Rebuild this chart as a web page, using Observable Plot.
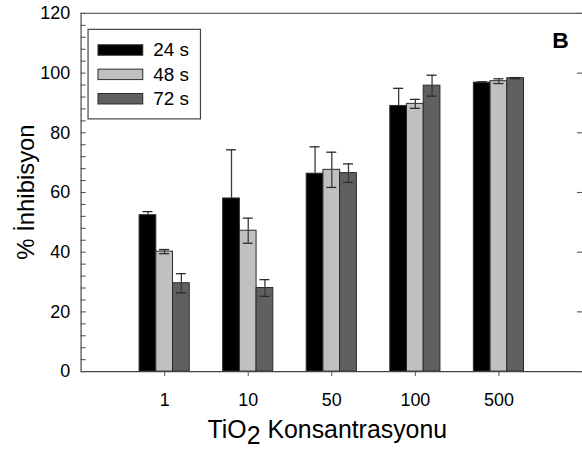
<!DOCTYPE html>
<html>
<head>
<meta charset="utf-8">
<script src="https://cdn.jsdelivr.net/npm/d3@7"></script>
<script src="https://cdn.jsdelivr.net/npm/@observablehq/plot@0.6"></script>
<style>
  html, body { margin: 0; padding: 0; background: #fff; overflow: hidden; }
  #chart svg { display: block; }
</style>
</head>
<body>
<div id="chart"></div>
<script>
// TiO2 concentrations on the x axis
const concentrations = ["1", "10", "50", "100", "500"];
// exposure times
const series = ["24 s", "48 s", "72 s"];
const fills = ["#000000", "#c0c0c0", "#606060"];

// % inhibition (mean) and error for each exposure time
const mean24 = [52.4, 58.0, 66.3, 89.0, 96.8];
const err24  = [1.2, 16.3, 9.0, 5.9, 0.3];
const mean48 = [40.2, 47.2, 67.6, 89.7, 97.3];
const err48  = [0.7, 4.2, 5.9, 1.5, 0.8];
const mean72 = [29.6, 28.0, 66.5, 95.8, 98.3];
const err72  = [3.2, 2.8, 3.1, 3.5, 0.2];

const yTicks = [0, 20, 40, 60, 80, 100, 120];
const yMinorTicks = d3.range(0, 121, 4);

const means = [mean24, mean48, mean72];
const errs = [err24, err48, err72];

// one row per bar: group position 1..5, slot 0..2 inside the group
const rows = [];
concentrations.forEach((c, i) => {
  series.forEach((s, k) => {
    rows.push({conc: c, series: s, pos: i + 1, slot: k, value: means[k][i], err: errs[k][i]});
  });
});
const barW = 0.2;
const center = d => d.pos + (d.slot - 1) * barW;
// the lower half of an error bar disappears inside the black bars
const low = d => d.slot === 0 ? d.value : d.value - d.err;
const caps = rows.flatMap(d => {
  const c = [{c: center(d), y: d.value + d.err}];
  if (d.slot !== 0) c.push({c: center(d), y: d.value - d.err});
  return c;
});

const font = "'Liberation Sans', Arial, sans-serif";

const chart = Plot.plot({
  width: 585,
  height: 459,
  marginTop: 13,
  marginBottom: 86,
  marginLeft: 81,
  marginRight: 0,
  style: {fontFamily: font, fontSize: "18px", color: "#000", background: "#fff"},
  x: {type: "linear", domain: [0, 6], axis: null},
  y: {domain: [0, 120], axis: null},
  color: {domain: series, range: fills},
  marks: [
    Plot.rectY(rows, {
      x1: d => center(d) - barW / 2,
      x2: d => center(d) + barW / 2,
      y1: 0,
      y2: "value",
      fill: "series",
      stroke: "#2a2a2a",
      strokeWidth: 1
    }),
    Plot.ruleX(rows, {
      x: center,
      y1: low,
      y2: d => d.value + d.err,
      stroke: "#3a3a3a",
      strokeWidth: 1.3
    }),
    Plot.ruleY(caps, {
      y: "y",
      x1: d => d.c - 0.06,
      x2: d => d.c + 0.06,
      stroke: "#2a2a2a",
      strokeWidth: 1.3
    }),
    // frame: left, bottom and top lines
    Plot.ruleX([0], {stroke: "#555", strokeWidth: 1.3}),
    Plot.ruleY([0], {stroke: "#444", strokeWidth: 1.3}),
    Plot.ruleY([120], {stroke: "#666", strokeWidth: 1.3}),
    Plot.axisX({
      ticks: [1, 2, 3, 4, 5],
      tickFormat: i => concentrations[i - 1],
      tickSize: 5,
      tickPadding: 17,
      fontSize: 18,
      stroke: "#555",
      label: null
    }),
    Plot.axisY({ticks: yTicks, tickSize: 0, tickPadding: 11, fontSize: 18, label: null})
  ]
});

document.getElementById("chart").appendChild(chart);

const svg = d3.select(chart);
const xs = chart.scale("x");
const ys = chart.scale("y");
const left = xs.apply(0);
const right = xs.apply(6);
const midX = (left + right) / 2 - 4;
const midY = (ys.apply(0) + ys.apply(120)) / 2;

// inward ticks: every 4 units on the left, every 20 on the right
const tk = svg.append("g").attr("stroke", "#555").attr("stroke-width", 1.1);
yMinorTicks.forEach(v => {
  const y = Math.round(ys.apply(v)) + 0.5;
  tk.append("line").attr("x1", left).attr("x2", left + 5).attr("y1", y).attr("y2", y);
});
yTicks.forEach(v => {
  const y = Math.round(ys.apply(v)) + 0.5;
  tk.append("line").attr("x1", right).attr("x2", right - 5).attr("y1", y).attr("y2", y);
});

// axis titles
svg.append("text")
  .attr("transform", `translate(34,${midY}) rotate(-90)`)
  .attr("text-anchor", "middle")
  .attr("font-family", font)
  .attr("font-size", 24)
  .attr("fill", "#000")
  .text("% İnhibisyon");

const xt = svg.append("text")
  .attr("x", midX)
  .attr("y", 440)
  .attr("text-anchor", "middle")
  .attr("font-family", font)
  .attr("font-size", 25)
  .attr("fill", "#000");
xt.append("tspan").text("TiO");
xt.append("tspan").attr("dy", 6).text("2");
xt.append("tspan").attr("dy", -6).text(" Konsantrasyonu");

// panel letter
svg.append("text")
  .attr("x", 555)
  .attr("y", 48)
  .attr("text-anchor", "start")
  .attr("font-family", font)
  .attr("font-size", 23)
  .attr("font-weight", "bold")
  .attr("fill", "#000")
  .text("B");

// legend
const lg = svg.append("g");
lg.append("rect")
  .attr("x", 88.5).attr("y", 29.5).attr("width", 113).attr("height", 90)
  .attr("fill", "#fff").attr("stroke", "#444").attr("stroke-width", 1.2);
series.forEach((s, k) => {
  const y0 = 45 + k * 24.5;
  lg.append("rect")
    .attr("x", 98.5).attr("y", y0).attr("width", 45).attr("height", 10.5)
    .attr("fill", fills[k]).attr("stroke", "#2a2a2a").attr("stroke-width", 1);
  lg.append("text")
    .attr("x", 154).attr("y", y0 + 11.5)
    .attr("text-anchor", "start")
    .attr("font-family", font).attr("font-size", 19).attr("fill", "#000")
    .text(s);
});
</script>
</body>
</html>
